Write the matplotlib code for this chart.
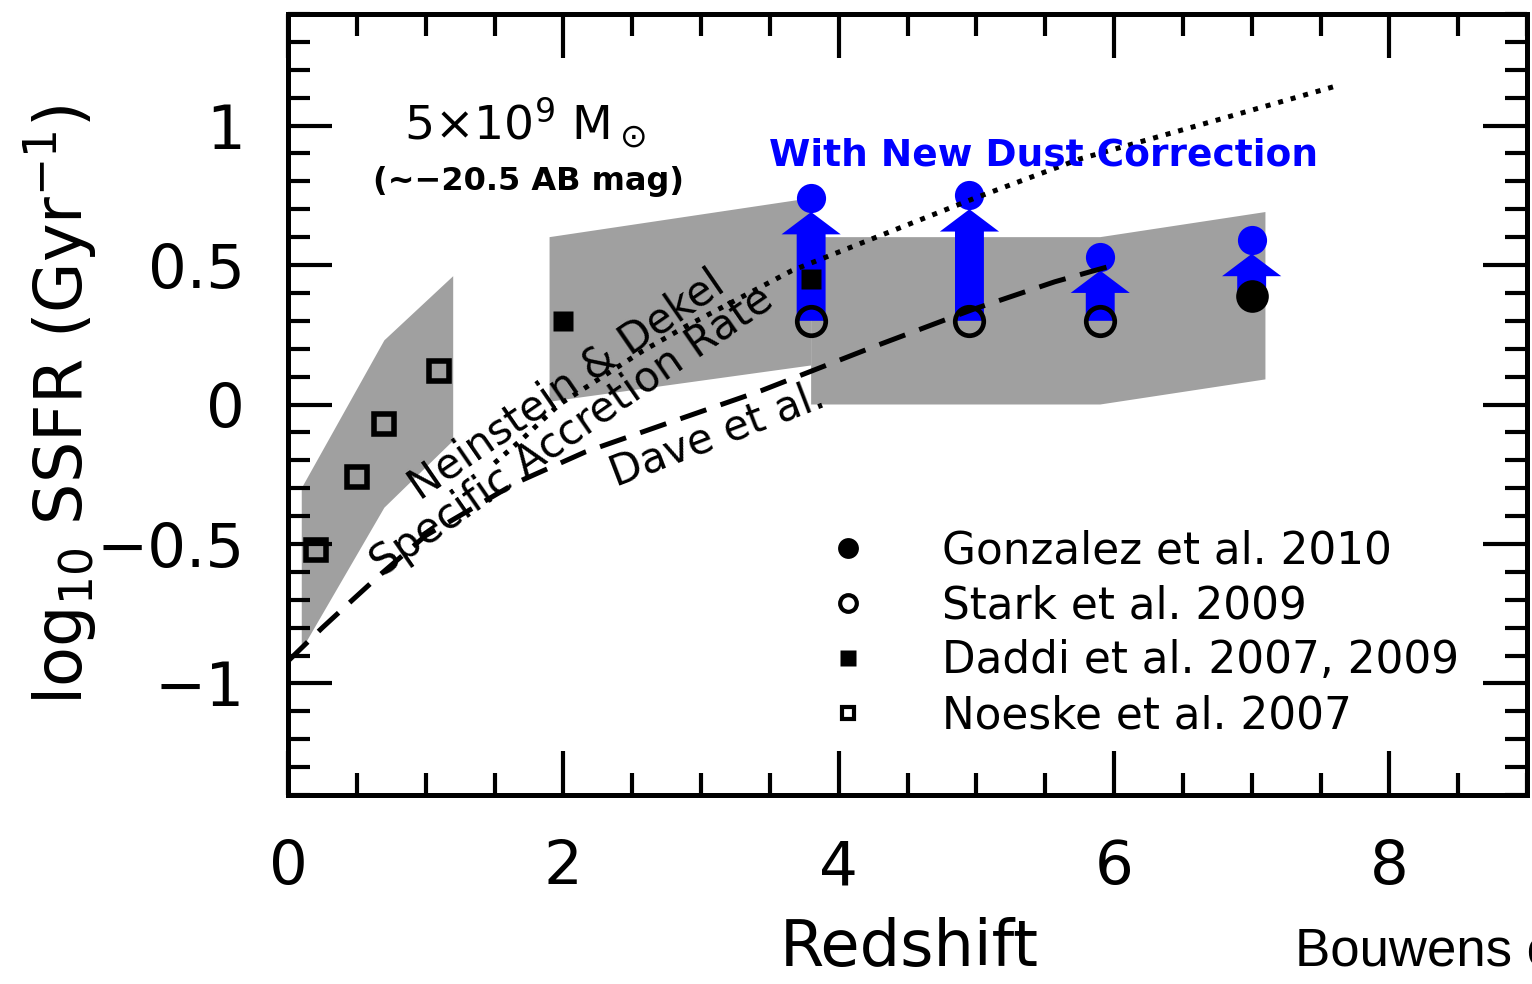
import numpy as np
import matplotlib
matplotlib.use("Agg")
import matplotlib.pyplot as plt
from matplotlib.lines import Line2D
from matplotlib.ticker import MultipleLocator, FuncFormatter

plt.rcParams['font.family'] = ['DejaVu Sans']
plt.rcParams['mathtext.fontset'] = 'dejavusans'

# shaded model ranges (redshift, log10 SSFR)
band_lowz_x = [0.1, 0.7, 1.2, 1.2, 0.7, 0.1]
band_lowz_y = [-0.30, 0.23, 0.46, -0.13, -0.37, -0.88]
band_midz_x = [1.9, 3.8, 3.8, 1.9]
band_midz_y = [0.60, 0.74, 0.14, 0.01]
band_highz_x = [3.8, 5.9, 7.1, 7.1, 5.9, 3.8]
band_highz_y = [0.60, 0.60, 0.69, 0.09, 0.0, 0.0]

# observations
noeske_z = [0.2, 0.5, 0.7, 1.1]
noeske_ssfr = [-0.52, -0.26, -0.07, 0.12]
daddi_z = [2.0, 3.8]
daddi_ssfr = [0.30, 0.45]
stark_z = [3.8, 4.95, 5.9]
stark_ssfr = [0.30, 0.30, 0.30]
gonzalez_z = [7.0]
gonzalez_ssfr = [0.39]

# values after the new dust correction
dust_z = [3.8, 4.95, 5.9, 7.0]
dust_from = [0.30, 0.30, 0.30, 0.39]
dust_to = [0.74, 0.75, 0.53, 0.59]

# model curves
dave_z = [0.0, 0.25, 0.47, 0.67, 1.0, 1.66, 2.16, 2.74, 3.44, 4.27, 4.97, 5.57, 6.0]
dave_ssfr = [-0.92, -0.80, -0.70, -0.61, -0.47, -0.28, -0.17, -0.07, 0.05, 0.21, 0.34, 0.44, 0.50]
nd_z = [1.5, 1.71, 1.97, 2.57, 2.89, 3.66, 4.99, 5.75, 6.75, 7.6]
nd_ssfr = [-0.21, -0.12, 0.0, 0.19, 0.28, 0.48, 0.74, 0.88, 1.02, 1.14]

fig = plt.figure(figsize=(15.32, 9.84), dpi=100)
ax = fig.add_axes([288/1532, 189/984, 1239/1532, 781/984])
ax.set_xlim(0, 9)
ax.set_ylim(-1.4, 1.4)

grey = '#a0a0a0'
ax.fill(band_lowz_x, band_lowz_y, color=grey, lw=0, zorder=1)
ax.fill(band_midz_x, band_midz_y, color=grey, lw=0, zorder=1)
ax.fill(band_highz_x, band_highz_y, color=grey, lw=0, zorder=1)

for z, y0, y1 in zip(dust_z, dust_from, dust_to):
    ax.arrow(z, y0, 0, (y1 - 0.05) - y0, width=0.21, head_width=0.43,
             head_length=0.08, length_includes_head=True,
             fc='blue', ec='none', zorder=2)
ax.plot(dust_z, dust_to, 'o', color='blue', ms=21, mec='none', zorder=2)

ax.plot(dave_z, dave_ssfr, color='black', lw=3.6, dashes=(5.5, 3), zorder=3)
ax.plot(nd_z, nd_ssfr, color='black', lw=3.6, dashes=(1, 1.6), zorder=3)

ax.plot(noeske_z, noeske_ssfr, 's', ms=14, mfc='none', mec='black', mew=4, zorder=4)
ax.plot(daddi_z, daddi_ssfr, 's', ms=14.5, color='black', mec='none', zorder=4)
ax.plot(stark_z, stark_ssfr, 'o', ms=20.5, mfc='none', mec='black', mew=3.4, zorder=4)
ax.plot(gonzalez_z, gonzalez_ssfr, 'o', ms=23.5, color='black', mec='none', zorder=4)

# labels in the panel
ax.text(1.72, 1.01, r'5$\times$10$^9$ M$_\odot$', fontsize=34, ha='center', va='center')
ax.text(1.75, 0.80, '(~\u221220.5 AB mag)', fontsize=23, fontweight='bold',
        ha='center', va='center')
ax.text(5.49, 0.893, 'With New Dust Correction', fontsize=27, fontweight='bold',
        color='blue', ha='center', va='center', zorder=5)
ax.text(2.02, 0.07, 'Neinstein & Dekel', fontsize=30, rotation=34.5,
        rotation_mode='anchor', ha='center', va='center', zorder=5)
ax.text(2.06, -0.095, 'Specific Accretion Rate', fontsize=30, rotation=34.7,
        rotation_mode='anchor', ha='center', va='center', zorder=5)
ax.text(3.12, -0.11, 'Dave et al.', fontsize=30, rotation=21,
        rotation_mode='anchor', ha='center', va='center', zorder=5)

handles = [
    Line2D([], [], ls='none', marker='o', ms=15, color='black', mec='none'),
    Line2D([], [], ls='none', marker='o', ms=12, mfc='none', mec='black', mew=3),
    Line2D([], [], ls='none', marker='s', ms=11, color='black', mec='none'),
    Line2D([], [], ls='none', marker='s', ms=9, mfc='none', mec='black', mew=3),
]
labels = ['Gonzalez et al. 2010', 'Stark et al. 2009',
          'Daddi et al. 2007, 2009', 'Noeske et al. 2007']
ax.legend(handles, labels, loc='upper left', bbox_to_anchor=(830/1532, 455/984),
          bbox_transform=fig.transFigure, frameon=False, fontsize=31.5,
          handlelength=0.8, handletextpad=1.75, labelspacing=0.28,
          borderpad=0, borderaxespad=0)

# axes styling
ax.xaxis.set_major_locator(MultipleLocator(2))
ax.xaxis.set_minor_locator(MultipleLocator(0.5))
ax.yaxis.set_major_locator(MultipleLocator(0.5))
ax.yaxis.set_minor_locator(MultipleLocator(0.1))
ax.yaxis.set_major_formatter(FuncFormatter(lambda v, p: ('%g' % v).replace('-', '\u2212')))
ax.tick_params(which='both', direction='in', top=True, right=True, width=3,
               labelsize=44, pad=31)
ax.tick_params(which='major', length=32)
ax.tick_params(which='minor', length=16)
for s in ax.spines.values():
    s.set_linewidth(3.6)

fig.text(60/1532, (984-404.5)/984, r'log$_{10}$ SSFR (Gyr$^{-1}$)', fontsize=47,
         rotation=90, ha='center', va='center')
fig.text(909/1532, (984-966)/984, 'Redshift', fontsize=46, ha='center', va='baseline')
fig.text(1295/1532, (984-965)/984, 'Bouwens et al.', fontsize=38,
         family=['Liberation Sans Narrow', 'Liberation Sans'], va='baseline')

fig.savefig('out.png', dpi=100)
